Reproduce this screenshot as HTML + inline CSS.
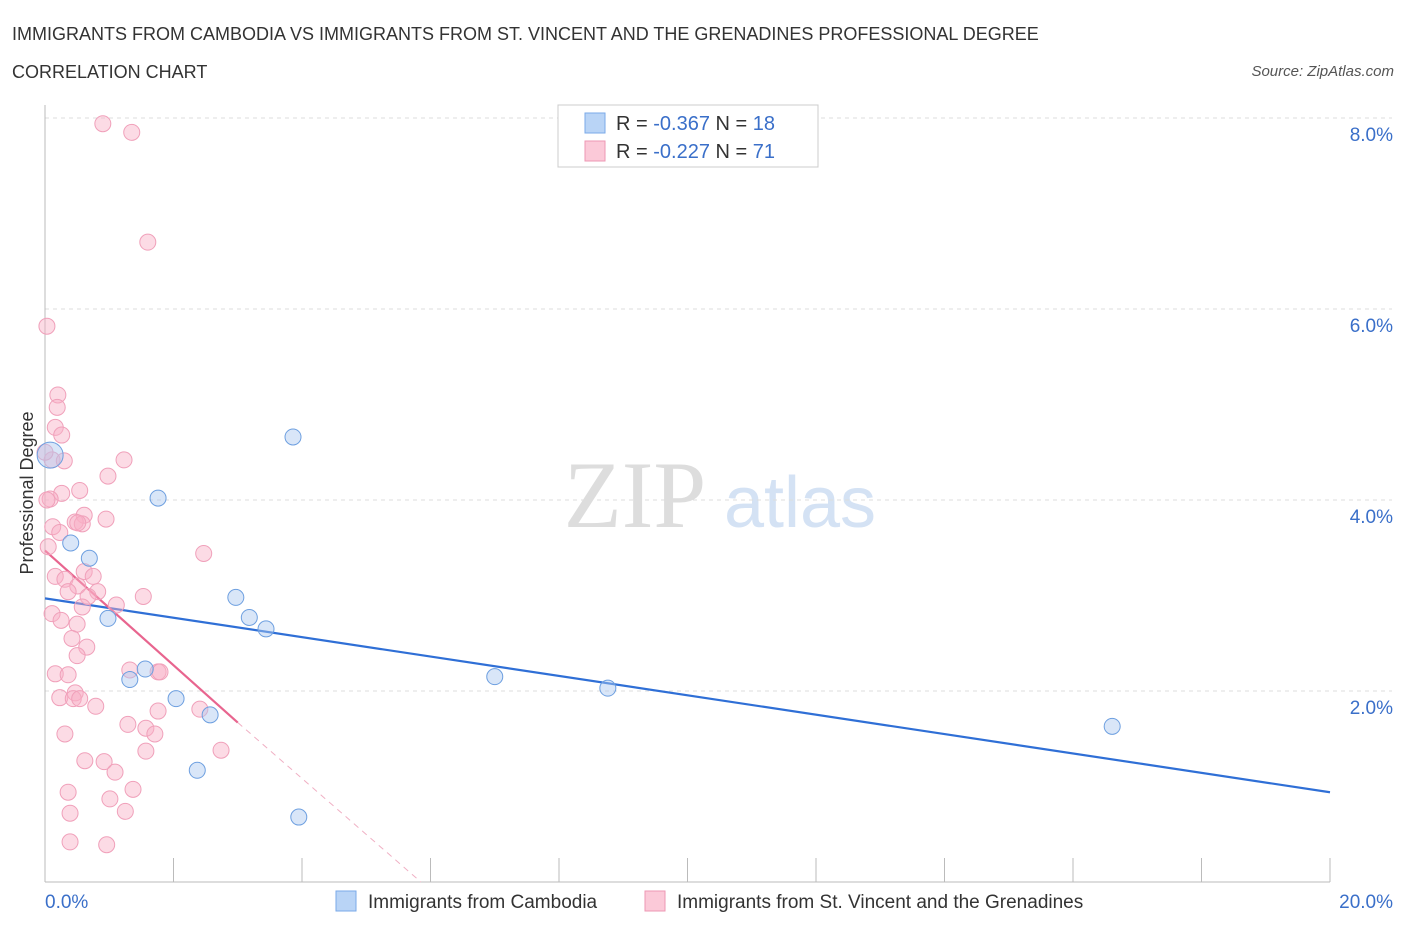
<!DOCTYPE html>
<html><head><meta charset="utf-8"><style>
body{margin:0;background:#fff;font-family:"Liberation Sans",sans-serif;}
svg{display:block}
</style></head><body>
<svg id="chart" width="1406" height="930" xmlns="http://www.w3.org/2000/svg" font-family="Liberation Sans, sans-serif">
<text x="12" y="40" font-size="18" fill="#333">IMMIGRANTS FROM CAMBODIA VS IMMIGRANTS FROM ST. VINCENT AND THE GRENADINES PROFESSIONAL DEGREE</text>
<text x="12" y="78" font-size="18" fill="#333">CORRELATION CHART</text>
<text x="1394" y="76" font-size="15" fill="#555" font-style="italic" text-anchor="end">Source: ZipAtlas.com</text>
<g>
<text x="635" y="527" font-size="95" fill="#ddd" font-family="Liberation Serif, serif" text-anchor="middle">ZIP</text>
<text x="800" y="527" font-size="72" fill="#d4e2f4" text-anchor="middle">atlas</text>
</g>
<g id="grid"></g>
<g id="axes"></g>
<g id="lines"></g>
<g id="points"></g>
<text transform="translate(33,493) rotate(-90)" font-size="18" fill="#333" text-anchor="middle">Professional Degree</text>
<g>
<rect x="558" y="105" width="260" height="62" fill="#fff" stroke="#ccc"/>
<rect x="585" y="113" width="20" height="20" fill="#b9d4f6" stroke="#7aaae8"/>
<rect x="585" y="141" width="20" height="20" fill="#fbc9d8" stroke="#ee97b3"/>
<text x="616" y="130" font-size="20" fill="#333">R = <tspan fill="#3a6fc9">-0.367</tspan>   N = <tspan fill="#3a6fc9">18</tspan></text>
<text x="616" y="158" font-size="20" fill="#333">R = <tspan fill="#3a6fc9">-0.227</tspan>   N = <tspan fill="#3a6fc9">71</tspan></text>
</g>
<g>
<rect x="336" y="891" width="20" height="20" fill="#b9d4f6" stroke="#7aaae8"/>
<text x="368" y="908" font-size="19" fill="#333">Immigrants from Cambodia</text>
<rect x="645" y="891" width="20" height="20" fill="#fbc9d8" stroke="#ee97b3"/>
<text x="677" y="908" font-size="19" fill="#333">Immigrants from St. Vincent and the Grenadines</text>
</g>
</svg>
<script>
const yTicks=[2,4,6,8];
const yTickLabels=["2.0%","4.0%","6.0%","8.0%"];
const xTicks=[0,2,4,6,8,10,12,14,16,18,20];
const blueX=[3.86,1.76,0.40,0.69,0.98,2.97,3.18,3.44,1.56,1.32,2.04,2.57,2.37,3.95,7.00,8.76,16.61,0.08];
const blueY=[4.66,4.02,3.55,3.39,2.76,2.98,2.77,2.65,2.23,2.12,1.92,1.75,1.17,0.68,2.15,2.03,1.63,4.47];
const pinkX=[0.90,1.35,1.60,0.03,0.20,0.19,0.16,0.26,0.11,0.30,1.23,0.98,0.54,0.26,0.08,0.03,0.61,0.95,0.47,0.12,0.23,0.58,0.05,2.47,0.61,0.75,0.16,0.31,0.51,0.36,0.82,0.67,1.53,1.11,0.58,0.11,0.25,0.50,0.42,0.65,0.50,1.32,1.76,0.16,0.36,0.47,0.23,0.44,0.54,0.79,1.76,2.41,1.29,1.57,1.71,0.31,1.57,2.74,0.62,0.92,1.09,0.36,1.37,1.01,1.25,0.39,0.39,0.96,1.79,0.51,0.00];
const pinkY=[7.94,7.85,6.70,5.82,5.10,4.97,4.76,4.68,4.42,4.41,4.42,4.25,4.10,4.07,4.01,4.00,3.84,3.80,3.77,3.72,3.66,3.75,3.51,3.44,3.25,3.20,3.20,3.17,3.10,3.04,3.04,2.99,2.99,2.90,2.88,2.81,2.74,2.70,2.55,2.46,2.37,2.22,2.20,2.18,2.17,1.98,1.93,1.92,1.92,1.84,1.79,1.81,1.65,1.61,1.55,1.55,1.37,1.38,1.27,1.26,1.15,0.94,0.97,0.87,0.74,0.72,0.42,0.39,2.20,3.76,4.50];
const blueTrend=[[0,2.97],[20,0.94]];
const pinkTrend=[[0,3.47],[3.0,1.67]];
const pinkDash=[[3.0,1.67],[5.85,0]];
const NS="http://www.w3.org/2000/svg";
const X0=45,X1=1330,YB=882,PXY=95.5;
const sx=v=>X0+(X1-X0)*v/20;
const sy=v=>YB-v*PXY;
function mk(t,a,p){const e=document.createElementNS(NS,t);for(const k in a)e.setAttribute(k,a[k]);p.appendChild(e);return e;}
const grid=document.getElementById('grid'),axes=document.getElementById('axes'),lines=document.getElementById('lines'),pts=document.getElementById('points');
yTicks.forEach((t,i)=>{
 const l=mk('line',{x1:X0,x2:1392,y1:sy(t),y2:sy(t),stroke:'#ddd','stroke-dasharray':'4,4'},grid);
 
 
 const tx=mk('text',{x:1393,y:sy(t)+23,'font-size':19,fill:'#3a6fc9','text-anchor':'end'},axes);
 tx.textContent=yTickLabels[i];
 
 
});
const xa=mk('line',{x1:X0,x2:X1,y1:YB,y2:YB,stroke:'#bbb'},axes);


const ya=mk('line',{x1:X0,x2:X0,y1:105,y2:YB,stroke:'#bbb'},axes);


xTicks.forEach(t=>{
 const l=mk('line',{x1:sx(t),x2:sx(t),y1:YB,y2:YB-24,stroke:'#bbb'},axes);
 
 
});
[[0,"0.0%",'start',45],[20,"20.0%",'end',1393]].forEach(d=>{
 const tx=mk('text',{x:d[3],y:908,'font-size':19,fill:'#3a6fc9','text-anchor':d[2]},axes);
 tx.textContent=d[1];
 
 
});
pinkX.forEach((x,i)=>{
 const c=mk('circle',{cx:sx(x),cy:sy(pinkY[i]),r:8,fill:'rgba(248,175,198,0.45)',stroke:'#f0a0ba','stroke-width':1},pts);
 
 
});
blueX.forEach((x,i)=>{
 const c=mk('circle',{cx:sx(x),cy:sy(blueY[i]),r:i==17?13:8,fill:'rgba(170,200,240,0.45)',stroke:'#6d9fe0','stroke-width':1},pts);
 
 
});
const bl=mk('line',{x1:sx(blueTrend[0][0]),y1:sy(blueTrend[0][1]),x2:sx(blueTrend[1][0]),y2:sy(blueTrend[1][1]),stroke:'#2f6fd6','stroke-width':2.2},lines);


const pl=mk('line',{x1:sx(pinkTrend[0][0]),y1:sy(pinkTrend[0][1]),x2:sx(pinkTrend[1][0]),y2:sy(pinkTrend[1][1]),stroke:'#e8658f','stroke-width':2.2},lines);


const pd=mk('line',{x1:sx(pinkDash[0][0]),y1:sy(pinkDash[0][1]),x2:sx(pinkDash[1][0]),y2:sy(pinkDash[1][1]),stroke:'#f0b0c4','stroke-width':1,'stroke-dasharray':'6,5'},lines);


</script>
</body></html>
